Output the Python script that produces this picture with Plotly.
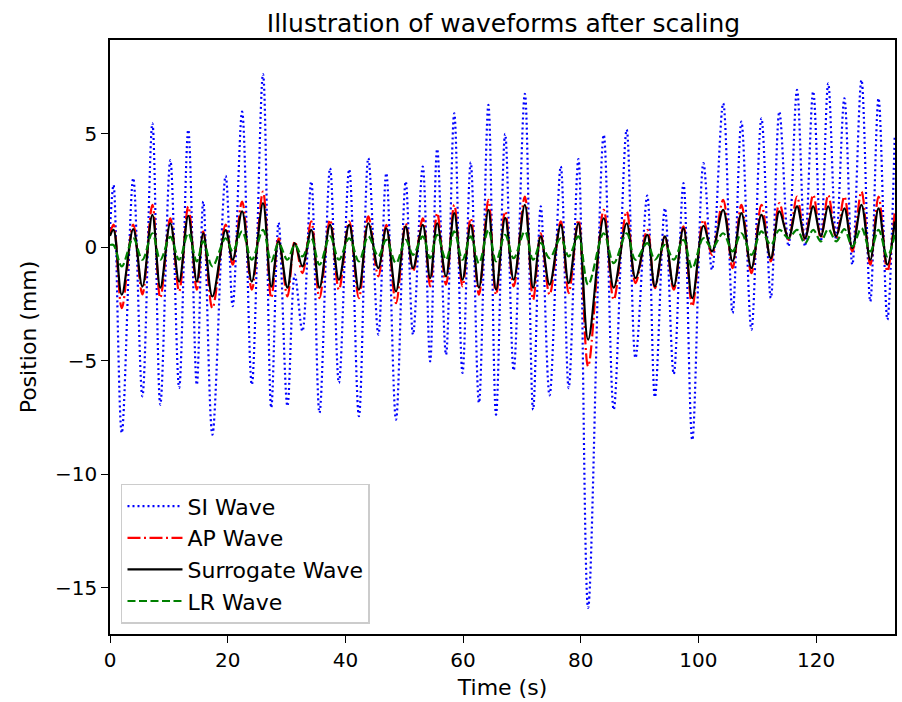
import plotly.graph_objects as go

# Time (s) of each turning point of the breathing waveforms
time_s = [0.0, 0.6, 2.0, 3.95, 5.5, 7.2, 8.55, 10.25, 11.75, 13.3, 14.75, 15.85, 17.4, 19.65, 20.85,
          22.45, 24.1, 26.0, 27.4, 28.65, 30.15, 31.4, 32.7, 34.2, 35.6, 37.4, 38.9, 40.65, 42.3,
          43.9, 45.6, 46.95, 48.6, 50.25, 51.5, 53.15, 54.4, 55.6, 57.1, 58.5, 59.9, 61.3, 62.7,
          64.3, 65.6, 67.15, 68.6, 70.5, 71.9, 73.2, 74.7, 76.6, 77.95, 79.6, 81.25, 83.9, 85.6,
          87.8, 89.3, 91.3, 92.6, 94.3, 95.8, 97.45, 98.95, 100.85, 102.3, 104.2, 105.8, 107.3,
          109.0, 110.7, 112.3, 113.75, 115.3, 116.75, 118.1, 119.5, 120.8, 122.05, 123.4, 124.8,
          126.15, 127.7, 129.2, 130.6, 132.1, 133.35]

si_wave = [0.8, 2.75, -8.19, 3.05, -6.57, 5.47, -6.94, 3.85, -6.2, 5.18, -6.06, 2.02, -8.26, 3.15, -2.6,
           5.98, -6.06, 7.64, -7.08, 1.09, -7.0, -1.2, -3.7, 2.9, -7.3, 3.49, -5.98, 3.44, -7.45,
           3.93, -3.85, 3.27, -7.6, 2.9, -3.85, 3.56, -5.03, 4.33, -4.74, 5.91, -5.54, 3.74, -6.86,
           6.28, -7.38, 5.0, -5.43, 6.77, -7.16, 1.81, -6.53, 3.57, -6.21, 3.89, -15.9, 4.96, -7.16,
           5.19, -4.88, 2.28, -6.61, 1.73, -5.59, 2.83, -8.5, 3.71, -0.99, 6.35, -2.9, 5.54,
           -3.63, 5.69, -2.24, 5.98, 0.04, 6.94, 0.04, 6.87, 0.26, 7.23, 0.33, 6.57,
           -0.77, 7.38, -2.39, 6.57, -3.19, 4.96]

ap_wave = [0.6, 1.0, -2.68, 1.0, -2.08, 1.87, -2.23, 1.28, -1.94, 1.8, -1.87, 0.7, -2.68, 1.0, -0.77,
           2.02, -1.87, 2.46, -2.23, 0.4, -2.16, 0.26, -1.14, 1.14, -2.24, 1.21, -1.87, 1.14, -2.24,
           1.36, -1.28, 0.99, -2.46, 1.06, -1.06, 1.28, -1.72, 1.51, -1.65, 1.87, -1.72, 1.28, -2.09,
           2.09, -2.09, 1.58, -1.72, 2.24, -2.31, 0.62, -2.09, 1.14, -2.02, 1.21, -5.25, 1.65, -2.31,
           1.58, -1.58, 0.77, -1.8, 0.48, -1.87, 0.92, -2.6, 1.21, -0.33, 2.09, -0.92, 1.87,
           -1.14, 1.87, -0.62, 1.95, 0.33, 2.24, 0.33, 2.31, 0.4, 2.31, 0.4, 2.24,
           -0.18, 2.46, -0.77, 2.24, -1.06, 1.58]

surrogate_wave = [0.5, 0.77, -2.09, 0.8, -1.73, 1.43, -1.78, 1.06, -1.51, 1.39, -1.51, 0.62, -2.17, 0.76, -0.55,
                  1.58, -1.51, 1.95, -1.73, 0.26, -1.78, 0.18, -0.84, 0.77, -1.78, 0.99, -1.43, 0.99, -1.87,
                  1.06, -0.92, 0.84, -1.94, 0.92, -0.92, 0.99, -1.36, 1.06, -1.28, 1.51, -1.43, 0.99, -1.78,
                  1.65, -1.87, 1.3, -1.43, 1.87, -1.78, 0.48, -1.65, 0.99, -1.58, 1.06, -4.07, 1.28, -1.78,
                  1.06, -1.36, 0.55, -1.72, 0.48, -1.72, 0.84, -2.24, 0.95, -0.18, 1.65, -0.62, 1.51,
                  -0.92, 1.43, -0.48, 1.58, 0.4, 1.8, 0.4, 1.8, 0.48, 1.8, 0.48, 1.72,
                  -0.04, 1.87, -0.55, 1.72, -0.77, 1.14]

lr_wave = [0.1, 0.1, -0.84, 0.4, -0.55, 0.62, -0.55, 0.46, -0.55, 0.62, -0.62, 0.26, -0.84, 0.4, -0.18,
           0.7, -0.55, 0.77, -0.62, 0.18, -0.55, 0.11, -0.4, 0.4, -0.77, 0.48, -0.55, 0.4, -0.62,
           0.48, -0.4, 0.33, -0.7, 0.33, -0.33, 0.48, -0.48, 0.55, -0.55, 0.7, -0.55, 0.48, -0.7,
           0.77, -0.62, 0.55, -0.48, 0.7, -0.55, 0.18, -0.48, 0.4, -0.4, 0.48, -1.65, 0.62, -0.7,
           0.62, -0.55, 0.18, -0.55, 0.11, -0.55, 0.33, -0.92, 0.4, -0.04, 0.62, -0.18, 0.62,
           -0.33, 0.7, 0.11, 0.77, 0.4, 0.77, 0.18, 0.77, 0.26, 0.8, 0.26, 0.8,
           0.04, 0.84, -0.18, 0.77, -0.4, 0.55]

series_names = ["SI Wave", "AP Wave", "Surrogate Wave", "LR Wave"]
x_ticks = [0, 20, 40, 60, 80, 100, 120]
y_ticks = [-15, -10, -5, 0, 5]

styles = [
    ("#0000ff", "2px,3px"),
    ("#ff0000", "13px,3.5px,2px,3.5px"),
    ("#000000", "solid"),
    ("#008000", "8px,3.5px"),
]

FONT = "DejaVu Sans"
fig = go.Figure()
for i, (name, vals) in enumerate(zip(series_names, [si_wave, ap_wave, surrogate_wave, lr_wave])):
    color, dash = styles[i]
    fig.add_trace(go.Scatter(
        x=time_s, y=vals, mode="lines", name=name, legendgroup=name,
        line=dict(color=color, width=2.2, dash=dash, shape="spline", smoothing=1.0),
    ))

axis_common = dict(
    showgrid=False, zeroline=False, showline=True, linecolor="black", linewidth=1.5,
    mirror=True, ticks="outside", ticklen=7, tickwidth=1.3, tickcolor="black",
    tickfont=dict(family=FONT, size=20, color="black"),
)

fig.update_layout(
    width=902, height=702,
    margin=dict(l=110, r=5, t=40, b=68),
    paper_bgcolor="white", plot_bgcolor="white",
    font=dict(family=FONT, color="black"),
    title=dict(text="Illustration of waveforms after scaling", x=0.5 * (110 + 897) / 902,
               xanchor="center", y=1 - 23 / 702, yanchor="middle", yref="container",
               font=dict(family=FONT, size=25, color="black")),
    xaxis=dict(range=[0, 133.4], tickvals=x_ticks, ticktext=[str(v) for v in x_ticks],
               title=dict(text="Time (s)", font=dict(family=FONT, size=22), standoff=9),
               **axis_common),
    yaxis=dict(range=[-17.05, 9.14], tickvals=y_ticks,
               ticktext=[("\u2212" + str(-v)) if v < 0 else str(v) for v in y_ticks],
               title=dict(text="Position (mm)", font=dict(family=FONT, size=22), standoff=12),
               **axis_common),
    showlegend=True,
    legend=dict(x=0.014, y=0.017, xanchor="left", yanchor="bottom",
                bgcolor="rgba(255,255,255,0.8)", bordercolor="#cccccc", borderwidth=1.5,
                font=dict(family=FONT, size=22, color="black"), tracegroupgap=6,
                itemwidth=55, traceorder="normal"),
)

fig.write_html("out.html")
